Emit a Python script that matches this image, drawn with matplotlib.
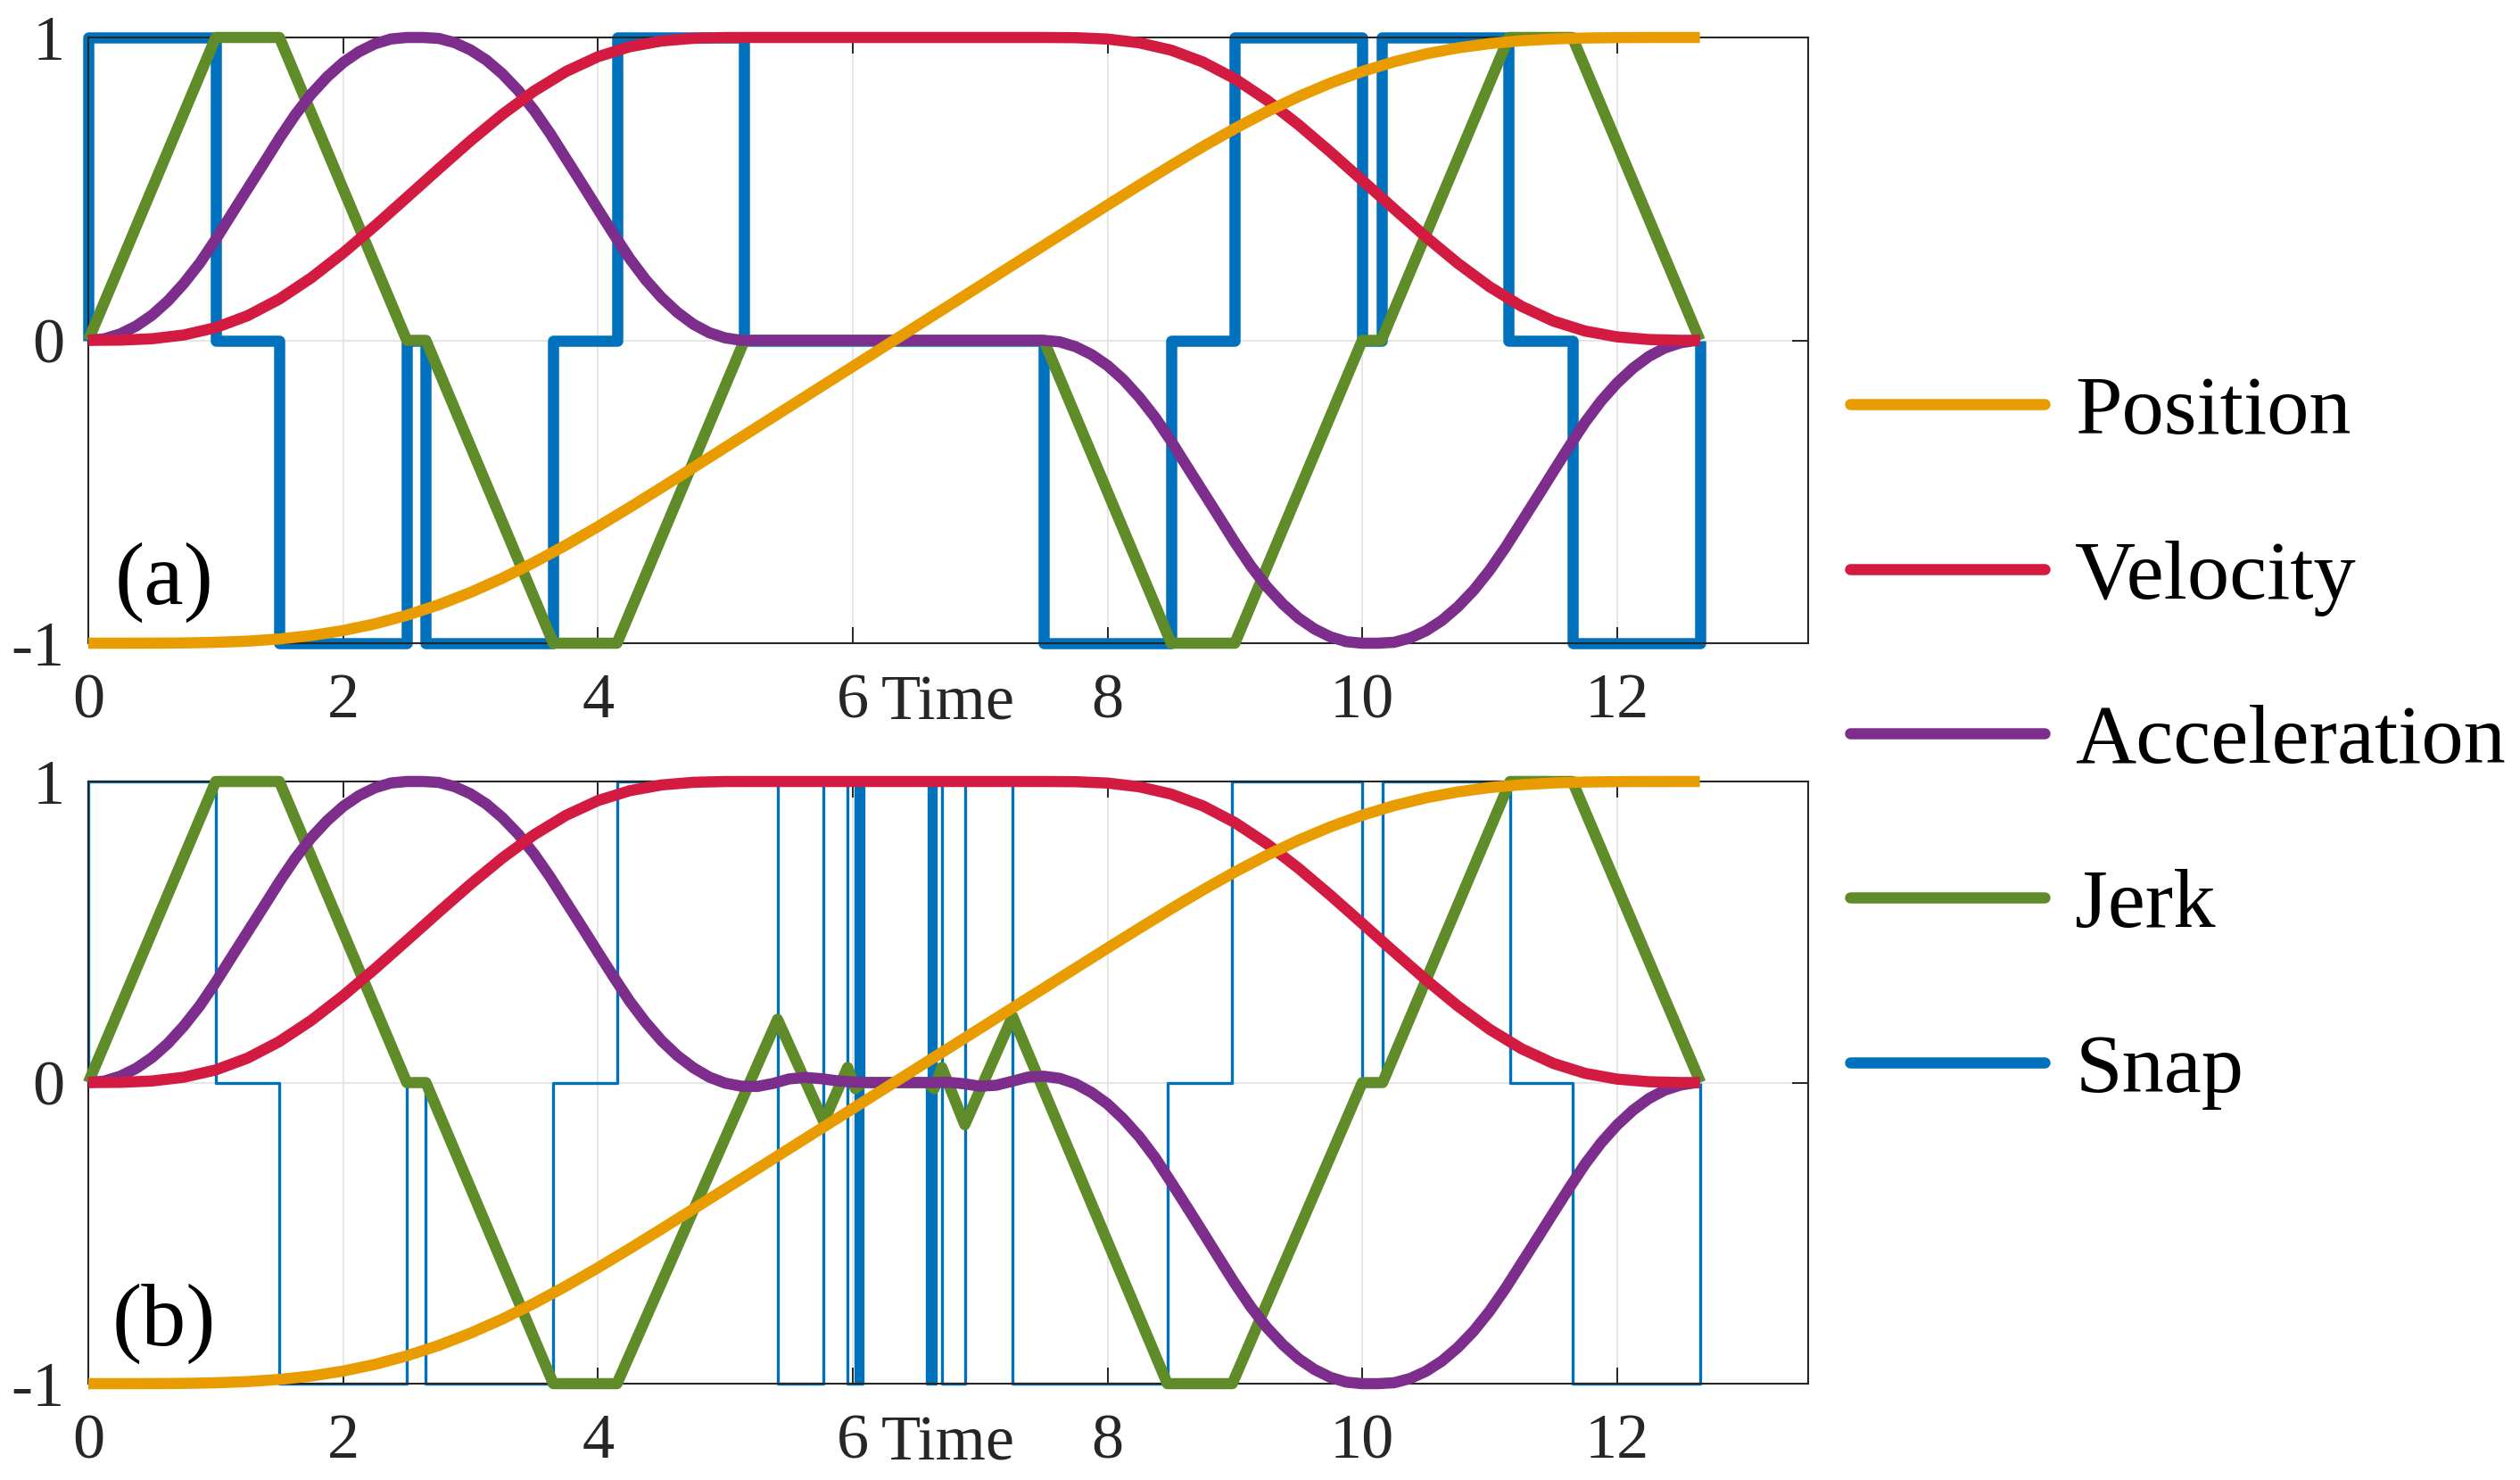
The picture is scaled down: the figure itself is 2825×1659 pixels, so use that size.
import matplotlib
matplotlib.use("Agg")
import matplotlib.pyplot as plt
from matplotlib.lines import Line2D

plt.rcParams["font.family"] = "serif"
plt.rcParams["font.serif"] = ["Liberation Serif", "Times New Roman", "DejaVu Serif"]
plt.rcParams["axes.unicode_minus"] = False

# --- data ---------------------------------------------------------------
# velocity / position sampled every 0.25 s
time = [0, 0.25, 0.5, 0.75, 1, 1.25, 1.5, 1.75, 2, 2.25, 2.5, 2.75, 3, 3.25,
        3.5, 3.75, 4, 4.25, 4.5, 4.75, 5, 5.25, 5.5, 5.75, 6, 6.25, 6.5, 6.75,
        7, 7.25, 7.5, 7.75, 8, 8.25, 8.5, 8.75, 9, 9.25, 9.5, 9.75, 10, 10.25,
        10.5, 10.75, 11, 11.25, 11.5, 11.75, 12, 12.25, 12.5, 12.65]

position = [-1.0, -1.0, -0.9998, -0.9991, -0.9972, -0.9932, -0.986, -0.9747,
            -0.9582, -0.9361, -0.9078, -0.8732, -0.8323, -0.7855, -0.7331,
            -0.676, -0.6151, -0.5515, -0.4862, -0.4199, -0.3533, -0.2867,
            -0.22, -0.1533, -0.0867, -0.02, 0.0467, 0.1133, 0.18, 0.2467,
            0.3133, 0.38, 0.4465, 0.5124, 0.5772, 0.6399, 0.6994, 0.7547,
            0.8049, 0.8494, 0.8878, 0.9198, 0.9457, 0.9655, 0.9798, 0.9893,
            0.9951, 0.9982, 0.9995, 0.9999, 1.0, 1.0]

velocity = [0, 0.0007, 0.0052, 0.0177, 0.0419, 0.0812, 0.1363, 0.2064, 0.2883,
            0.378, 0.4717, 0.566, 0.6586, 0.7457, 0.8233, 0.8876, 0.9364,
            0.9694, 0.9885, 0.9973, 0.9999, 1, 1, 1, 1, 1, 1, 1, 1, 1, 1,
            0.9993, 0.9948, 0.9823, 0.9581, 0.9188, 0.8637, 0.7936, 0.7117,
            0.622, 0.5283, 0.434, 0.3414, 0.2543, 0.1767, 0.1124, 0.0636,
            0.0306, 0.0115, 0.0027, 0.0001, 0]

# acceleration sampled every 0.125 s
time_acc = [0, 0.125, 0.25, 0.375, 0.5, 0.625, 0.75, 0.875, 1, 1.125, 1.25,
            1.375, 1.5, 1.625, 1.75, 1.875, 2, 2.125, 2.25, 2.375, 2.5, 2.625,
            2.75, 2.875, 3, 3.125, 3.25, 3.375, 3.5, 3.625, 3.75, 3.875, 4,
            4.125, 4.25, 4.375, 4.5, 4.625, 4.75, 4.875, 5, 5.125, 5.25, 5.375,
            5.5, 5.625, 5.75, 5.875, 6, 6.125, 6.25, 6.375, 6.5, 6.625, 6.75,
            6.875, 7, 7.125, 7.25, 7.375, 7.5, 7.625, 7.75, 7.875, 8, 8.125,
            8.25, 8.375, 8.5, 8.625, 8.75, 8.875, 9, 9.125, 9.25, 9.375, 9.5,
            9.625, 9.75, 9.875, 10, 10.125, 10.25, 10.375, 10.5, 10.625, 10.75,
            10.875, 11, 11.125, 11.25, 11.375, 11.5, 11.625, 11.75, 11.875, 12,
            12.125, 12.25, 12.375, 12.5, 12.625, 12.65]

accel_a = [0, 0.005, 0.021, 0.047, 0.083, 0.13, 0.188, 0.255, 0.333, 0.417,
           0.5, 0.583, 0.667, 0.745, 0.813, 0.87, 0.917, 0.953, 0.979, 0.995,
           1.0, 1.0, 0.997, 0.983, 0.959, 0.925, 0.88, 0.825, 0.759, 0.683,
           0.6, 0.517, 0.433, 0.35, 0.27, 0.2, 0.141, 0.092, 0.053, 0.025,
           0.008, 0.0,
           0, 0, 0, 0, 0, 0, 0, 0, 0, 0, 0, 0, 0, 0, 0, 0, 0, 0, 0,
           -0.005, -0.021, -0.047, -0.083, -0.13, -0.188, -0.255, -0.333,
           -0.417, -0.5, -0.583, -0.667, -0.745, -0.813, -0.87, -0.917, -0.953,
           -0.979, -0.995, -1.0, -1.0, -0.997, -0.983, -0.959, -0.925, -0.88,
           -0.825, -0.759, -0.683, -0.6, -0.517, -0.433, -0.35, -0.27, -0.2,
           -0.141, -0.092, -0.053, -0.025, -0.008, 0.0, 0]

accel_b = [0, 0.005, 0.021, 0.047, 0.083, 0.13, 0.188, 0.255, 0.333, 0.417,
           0.5, 0.583, 0.667, 0.745, 0.813, 0.87, 0.917, 0.953, 0.979, 0.995,
           1.0, 1.0, 0.997, 0.983, 0.959, 0.925, 0.88, 0.825, 0.759, 0.683,
           0.6, 0.517, 0.433, 0.35,
           0.27, 0.2, 0.139, 0.089, 0.049, 0.018, -0.002, -0.012, -0.013,
           -0.003, 0.012, 0.017, 0.013, 0.006, 0.002, 0, 0, 0, 0, 0, 0.001,
           -0.004, -0.012, -0.009, 0.004, 0.018, 0.021, 0.014, -0.004, -0.033,
           -0.071, -0.121, -0.18, -0.25, -0.331, -0.414, -0.498,
           -0.583, -0.667, -0.745, -0.813, -0.87, -0.917, -0.953, -0.979,
           -0.995, -1.0, -1.0, -0.997, -0.983, -0.959, -0.925, -0.88, -0.825,
           -0.759, -0.683, -0.6, -0.517, -0.433, -0.35, -0.27, -0.2, -0.141,
           -0.092, -0.053, -0.025, -0.008, 0.0, 0]

jerk_a_t = [0, 1.0, 1.5, 2.5, 2.65, 3.65, 4.15, 5.15, 7.5, 8.5, 9.0, 10.0,
            10.15, 11.15, 11.65, 12.65]
jerk_a = [0, 1, 1, 0, 0, -1, -1, 0, 0, -1, -1, 0, 0, 1, 1, 0]

jerk_b_t = [0, 1.0, 1.5, 2.5, 2.65, 3.65, 4.15, 5.41, 5.773, 5.96, 6.02, 6.08,
            6.58, 6.64, 6.70, 6.88, 7.255, 8.47, 8.98, 10.0, 10.16, 11.16,
            11.65, 12.655]
jerk_b = [0, 1, 1, 0, 0, -1, -1, 0.21, -0.13, 0.05, -0.02, 0, 0, -0.02, 0.05,
          -0.14, 0.22, -1, -1, 0, 0, 1, 1, 0]

snap_a_t = [0, 0, 1.0, 1.5, 2.5, 2.65, 3.65, 4.15, 5.15, 7.5, 8.5, 9.0, 10.0,
            10.15, 11.15, 11.65, 12.65]
snap_a = [0, 1, 0, -1, 0, -1, 0, 1, 0, -1, 0, 1, 0, 1, 0, -1, 0]

snap_b_t = [0, 0, 1.0, 1.5, 2.5, 2.65, 3.65, 4.15, 5.41, 5.773, 5.96, 6.02,
            6.03, 6.045, 6.06, 6.075, 6.085, 6.58, 6.595, 6.61, 6.625, 6.64,
            6.655, 6.70, 6.88, 7.255, 8.47, 8.98, 10.0, 10.16, 11.16, 11.65,
            12.655]
snap_b = [0, 1, 0, -1, 0, -1, 0, 1, -1, 1, -1, 1, -1, 1, -1, 1, 0, -1, 1, -1,
          1, -1, 1, -1, 1, -1, 0, 1, 0, 1, 0, -1, 0]

labels = ["Position", "Velocity", "Acceleration", "Jerk", "Snap"]
x_ticks = [0, 2, 4, 6, 8, 10, 12]
y_ticks = [-1, 0, 1]

# --- style ---------------------------------------------------------------
C_POS = "#E89C00"
C_VEL = "#D31A40"
C_ACC = "#7D2E8D"
C_JERK = "#5F8B29"
C_SNAP = "#0072BD"
LW = 9


def draw_panel(ax, acc, jerk_t, jerk, snap_t, snap, snap_lw, tag):
	kw = dict(solid_joinstyle="round", solid_capstyle="butt", clip_on=False)
	ax.plot(snap_t, snap, drawstyle="steps-post", color=C_SNAP, lw=snap_lw, zorder=2, **kw)
	ax.plot(jerk_t, jerk, color=C_JERK, lw=LW, zorder=3, **kw)
	ax.plot(time_acc, acc, color=C_ACC, lw=LW, zorder=4, **kw)
	ax.plot(time, velocity, color=C_VEL, lw=LW, zorder=5, **kw)
	ax.plot(time, position, color=C_POS, lw=LW, zorder=6, **kw)

	ax.set_xlim(0, 13.5)
	ax.set_ylim(-1, 1)
	ax.set_xticks(x_ticks)
	ax.set_yticks(y_ticks)
	ax.set_xticklabels([str(v) for v in x_ticks])
	ax.set_yticklabels([str(v) for v in y_ticks])
	ax.grid(True, color="#e2e2e2", lw=1.2)
	ax.set_axisbelow(True)
	for sp in ax.spines.values():
		sp.set_color("#262626")
		sp.set_linewidth(1.5)
	ax.tick_params(direction="in", top=True, right=True, length=13, width=1.4,
	               colors="#262626", labelsize=52)
	ax.tick_params(axis="x", pad=24)
	ax.tick_params(axis="y", pad=19)

	ax.set_xlabel("Time", fontsize=52, color="#262626")
	ax.xaxis.set_label_coords(0.5, -0.052)
	ax.text(0.044, 0.10, tag, transform=ax.transAxes, fontsize=72,
	        ha="center", va="center")


fig = plt.figure(figsize=(28.25, 16.59), dpi=100)
ax_a = fig.add_axes([0.03504, 0.56540, 0.68248, 0.40928])
ax_b = fig.add_axes([0.03504, 0.06510, 0.68248, 0.40687])

draw_panel(ax_a, accel_a, jerk_a_t, jerk_a, snap_a_t, snap_a, LW, "(a)")
draw_panel(ax_b, accel_b, jerk_b_t, jerk_b, snap_b_t, snap_b, 2.4, "(b)")

handles = [Line2D([], [], color=c, lw=LW, solid_capstyle="round")
           for c in [C_POS, C_VEL, C_ACC, C_JERK, C_SNAP]]
fig.legend(handles, labels, loc="center left", bbox_to_anchor=(0.7342, 0.4985),
           frameon=False, fontsize=68, handlelength=2.31, handletextpad=0.36,
           labelspacing=1.04, borderpad=0, borderaxespad=0)

fig.savefig("out.png", dpi=100)
